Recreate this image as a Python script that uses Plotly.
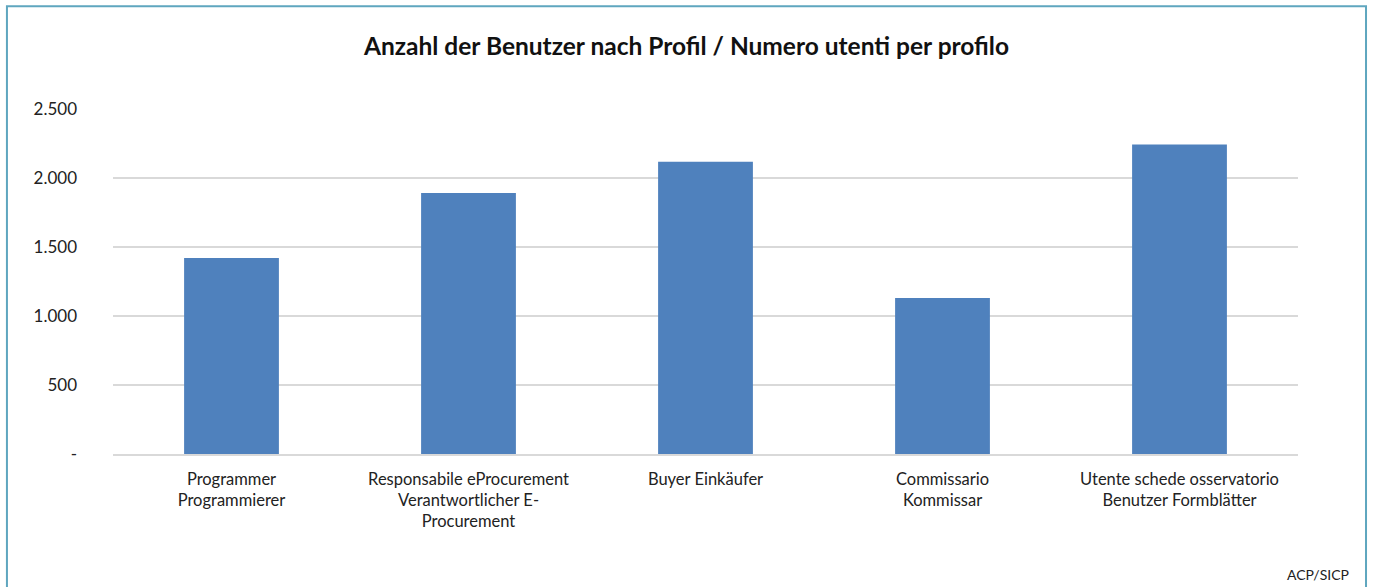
import plotly.graph_objects as go

# Profile / number of users
categories = [
    "Programmer<br>Programmierer",
    "Responsabile eProcurement<br>Verantwortlicher E-<br>Procurement",
    "Buyer Einkäufer",
    "Commissario<br>Kommissar",
    "Utente schede osservatorio<br>Benutzer Formblätter",
]
users = [1420, 1891, 2118, 1130, 2242]

tick_vals = [0, 500, 1000, 1500, 2000, 2500]
tick_text = ["-", "500", "1.000", "1.500", "2.000", "2.500"]

FONT = "Lato, 'Open Sans', sans-serif"

fig = go.Figure()
fig.add_trace(go.Bar(
    x=categories,
    y=users,
    marker=dict(color="#4F81BD", line=dict(width=0)),
    width=0.4,
))

fig.update_layout(
    width=1373,
    height=587,
    margin=dict(l=113, r=75, t=109, b=133),
    paper_bgcolor="white",
    plot_bgcolor="white",
    showlegend=False,
    font=dict(family=FONT, color="#222222"),
    title=dict(
        text="<b>Anzahl der Benutzer nach Profil / Numero utenti per profilo</b>",
        x=0.5, xref="container", xanchor="center",
        y=1 - 46 / 587, yref="container", yanchor="middle",
        font=dict(size=24.5, family=FONT, color="#111111"),
    ),
)

fig.update_yaxes(
    range=[0, 2500],
    tickvals=tick_vals,
    ticktext=tick_text,
    showgrid=True,
    gridcolor="#d9d9d9",
    gridwidth=1.5,
    zeroline=False,
    showline=False,
    ticks="",
    ticklabelstandoff=35,
    tickfont=dict(size=17, family=FONT, color="#222222"),
)
fig.update_xaxes(
    showline=True,
    linecolor="#d9d9d9",
    linewidth=1.5,
    ticks="",
    ticklabelstandoff=9,
    tickfont=dict(size=16.5, family=FONT, color="#222222"),
)

# outer chart border
fig.add_shape(
    type="rect", xref="paper", yref="paper",
    x0=-0.0895, x1=1.0574, y0=-0.45, y1=1.298,
    line=dict(color="#5FA6BF", width=2),
    fillcolor="rgba(0,0,0,0)",
    layer="below",
)

fig.add_annotation(
    text="ACP/SICP",
    xref="paper", yref="paper",
    x=1.045, xanchor="right",
    y=-0.35, yanchor="middle",
    showarrow=False,
    font=dict(size=14, family=FONT, color="#222222"),
)

# drop the default page margin so the figure sits at the window's corner
fig.write_html(
    "out.html",
    config={"displayModeBar": False},
    post_script="document.body.style.margin='0';document.body.style.overflow='hidden';",
)
